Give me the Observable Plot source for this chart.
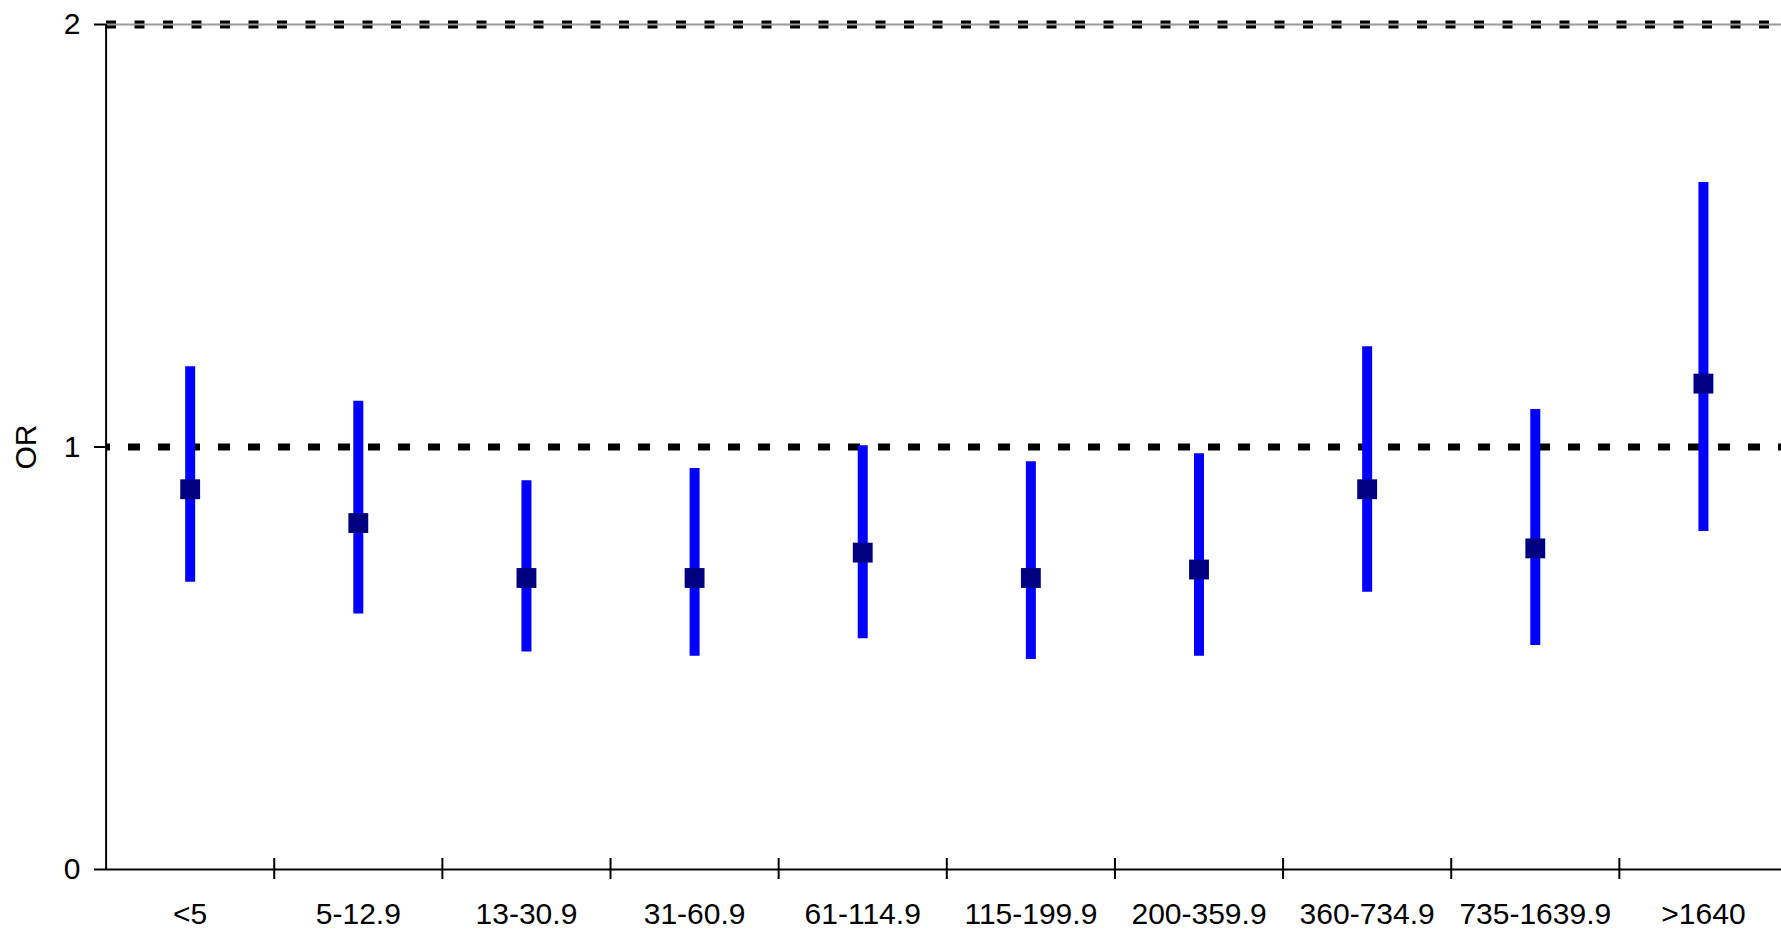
<!DOCTYPE html>
<html>
<head>
<meta charset="utf-8">
<script src="https://cdn.jsdelivr.net/npm/d3@7"></script>
<script src="https://cdn.jsdelivr.net/npm/@observablehq/plot@0.6"></script>
<style>
  html, body { margin: 0; padding: 0; background: #fff; overflow: hidden; }
  #chart svg { display: block; font-family: "Liberation Sans", Arial, sans-serif; }
</style>
</head>
<body>
<div id="chart"></div>
<script>
const categories = ["<5", "5-12.9", "13-30.9", "31-60.9", "61-114.9", "115-199.9", "200-359.9", "360-734.9", "735-1639.9", ">1640"];
const orValues   = [0.90, 0.82, 0.69, 0.69, 0.75, 0.69, 0.71, 0.90, 0.76, 1.15];
const lowerCI    = [0.68, 0.605, 0.515, 0.505, 0.546, 0.497, 0.505, 0.656, 0.53, 0.80];
const upperCI    = [1.19, 1.108, 0.92, 0.949, 1.003, 0.965, 0.984, 1.237, 1.089, 1.626];
const yTicks     = [0, 1, 2];

const data = categories.map((c, i) => ({
  cat: c, pos: i + 0.5, or: orValues[i], lo: lowerCI[i], hi: upperCI[i]
}));
const centers = data.map(d => d.pos);
const boundaries = d3.range(1, categories.length);

const chart = Plot.plot({
  width: 1781,
  height: 929,
  marginLeft: 106,
  marginRight: 0,
  marginTop: 24,
  marginBottom: 60,
  style: { fontFamily: "'Liberation Sans', Arial, sans-serif", color: "#000", background: "#fff" },
  x: { type: "linear", domain: [0, categories.length], range: [105.6, 1787], label: null },
  y: { domain: [0, 2], label: null },
  marks: [
    // reference line at OR = 1
    Plot.ruleY([1], { stroke: "#000", strokeWidth: 7, strokeDasharray: "12,18", strokeDashoffset: 8 }),
    // top border line at 2 (dashed + grey)
    Plot.ruleY([2], { stroke: "#000", strokeWidth: 8, strokeDasharray: "10,18.5", strokeDashoffset: 0 }),
    Plot.ruleY([2], { stroke: "#9a9a9a", strokeWidth: 2 }),
    // confidence intervals
    Plot.ruleX(data, { x: "pos", y1: "lo", y2: "hi", stroke: "#0000ff", strokeWidth: 10 }),
    // point estimates
    Plot.dot(data, { x: "pos", y: "or", symbol: "square", r: 11.2, fill: "#000080", stroke: "none" }),
    // axes lines
    Plot.ruleY([0], { stroke: "#000", strokeWidth: 2 }),
    Plot.ruleX([0], { y1: 0, y2: 2, stroke: "#000", strokeWidth: 2 }),
    // y axis
    Plot.axisY({
      ticks: yTicks, tickSize: 12, tickPadding: 14, fontSize: 30, tickFormat: d => String(d),
      stroke: "#000", strokeWidth: 2,
      label: "OR", labelAnchor: "center", labelArrow: "none", labelOffset: 92
    }),
    // x boundary ticks
    Plot.axisX({ ticks: boundaries, tickSize: 21, tickFormat: () => "", dy: -11, strokeWidth: 2, stroke: "#000", label: null }),
    // x labels
    Plot.axisX({ ticks: centers, tickSize: 0, tickPadding: 33, fontSize: 30, tickFormat: d => categories[Math.floor(d)], label: null })
  ]
});
document.getElementById("chart").appendChild(chart);
</script>
</body>
</html>
